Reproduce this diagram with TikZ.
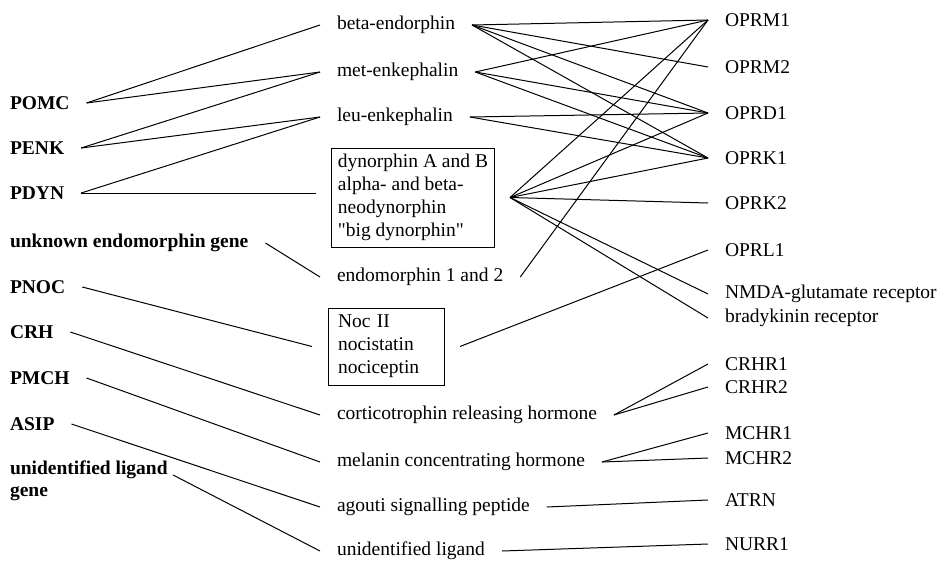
\documentclass[tikz,border=0pt]{standalone}
\usepackage{fontspec}
\setmainfont{Liberation Serif}[Ligatures=TeXOff]
\usetikzlibrary{positioning}
\begin{document}
\begin{tikzpicture}[x=1pt,y=-1pt,
    lbl/.style={anchor=west,inner xsep=1pt,inner ysep=2pt,outer xsep=16pt,font=\fontsize{19.5}{23}\selectfont},
    gene/.style={lbl,align=left,font=\fontsize{19.5}{22}\selectfont\bfseries},
    pbox/.style={draw,line width=1pt,outer xsep=16pt,align=left,font=\fontsize{19.5}{23}\selectfont},
    link/.style={line width=1pt}]
  \useasboundingbox (0,0) rectangle (945,560);
  % genes
  \foreach \n/\y/\t in {pomc/103/POMC, penk/148/PENK, pdyn/193/PDYN,
      ueg/243/unknown endomorphin gene, pnoc/287/PNOC, crh/332/CRH,
      pmch/378/PMCH, asip/424/ASIP}
    \node[gene] (\n) at (-7,\y) {\t};
  \node[gene] (ugene) at (-7,481) {unidentified ligand\\gene};
  % peptides
  \foreach \n/\y/\t in {bend/25/beta-endorphin, menk/72/met-enkephalin,
      lenk/117/leu-enkephalin, endo/277/endomorphin 1 and 2,
      crhh/415/corticotrophin releasing hormone, mch/462/melanin concentrating hormone,
      asp/507/agouti signalling peptide, ulig/551/unidentified ligand}
    \node[lbl] (\n) at (320,\y) {\t};
  \node[pbox,minimum width=162pt,minimum height=99pt,inner xsep=6pt] (dyn) at (413,197.5)
    {dynorphin A and B\\alpha- and beta-\\neodynorphin\\"big dynorphin"};
  \node[pbox,minimum width=116pt,minimum height=77pt,text width=96pt,inner xsep=10pt] (noc) at (386,346.5)
    {Noc II\\nocistatin\\nociceptin};
  % receptors
  \foreach \n/\y/\t in {oprm1/20/OPRM1, oprm2/67/OPRM2, oprd1/113/OPRD1,
      oprk1/158/OPRK1, oprk2/203/OPRK2, oprl1/250/OPRL1,
      nmda/294/NMDA-glutamate receptor, brady/318/bradykinin receptor,
      crhr1/364/CRHR1, crhr2/387/CRHR2, mchr1/433/MCHR1, mchr2/458/MCHR2,
      atrn/500/ATRN, nurr1/544/NURR1}
    \node[lbl] (\n) at (708,\y) {\t};
  % gene -> peptide
  \foreach \a/\b in {pomc/bend, pomc/menk, penk/menk, penk/lenk, pdyn/lenk,
      ueg/endo, pnoc/noc, crh/crhh, pmch/mch, asip/asp}
    \draw[link] (\a.east) -- (\b.west);
  \draw[link] (pdyn.east) -- (pdyn.east -| dyn.west);
  \draw[link,shorten <=-13pt] (ugene.east) -- (ulig.west);
  % peptide -> receptor
  \foreach \a/\b in {bend/oprm1, bend/oprm2, bend/oprd1, bend/oprk1,
      menk/oprm1, menk/oprd1, menk/oprk1, lenk/oprd1, lenk/oprk1,
      dyn/oprm1, dyn/oprd1, dyn/oprk1, dyn/oprk2, dyn/nmda, dyn/brady,
      endo/oprm1, noc/oprl1, crhh/crhr1, crhh/crhr2, mch/mchr1, mch/mchr2,
      asp/atrn, ulig/nurr1}
    \draw[link] (\a.east) -- (\b.west);
\end{tikzpicture}
\end{document}
